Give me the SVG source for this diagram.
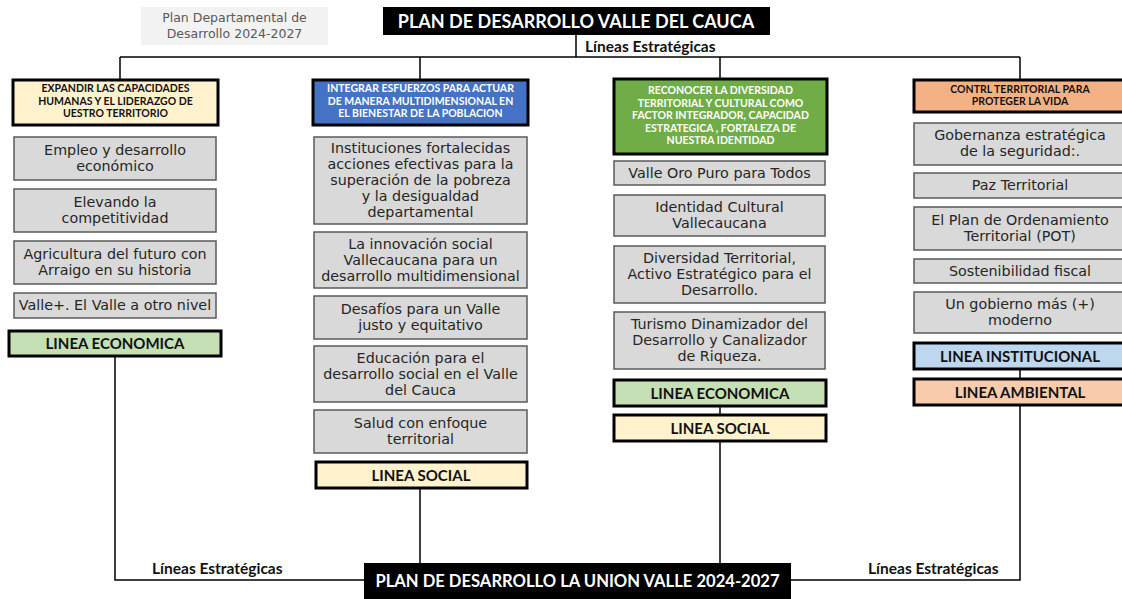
<svg xmlns="http://www.w3.org/2000/svg" width="1122" height="599" viewBox="0 0 1122 599">
<style>
.item rect{fill:#D9D9D9;stroke:#5a5a5a;stroke-width:1.5}
.item text{font-family:"DejaVu Sans",sans-serif;font-size:14.3px;fill:#262626;text-anchor:middle}
.hdr rect{stroke:#000;stroke-width:3}
.hdr text{font-family:Lato,"Liberation Sans",sans-serif;font-weight:bold;font-size:10.5px;text-anchor:middle}
.lin rect{stroke:#000;stroke-width:3}
.lin text{font-family:Lato,"Liberation Sans",sans-serif;font-weight:bold;font-size:15px;fill:#111;text-anchor:middle}
.ttl rect{fill:#000}
.ttl text{font-family:Lato,"Liberation Sans",sans-serif;font-weight:bold;fill:#fff;text-anchor:middle}
.lbl{font-family:Lato,"Liberation Sans",sans-serif;font-weight:bold;font-size:15.5px;fill:#111}
#connectors path{fill:none;stroke:#000;stroke-width:1.5}
</style>
<rect width="1122" height="599" fill="#fff"/>

<g id="connectors">
<path d="M576 35V57M120 57H1020M120 57V80M420 57V80M720 57V79M1020 57V80"/>
<path d="M115 356V580H364"/>
<path d="M420 488V563"/>
<path d="M720 406V415M720 441V563"/>
<path d="M1020 369V379M1020 405V580H791"/>
</g>

<g id="plan-departamental">
<rect x="141" y="7" width="187" height="38" fill="#F2F2F2"/>
<text x="234.5" y="22" font-family="'DejaVu Sans',sans-serif" font-size="12.5" fill="#595959" text-anchor="middle">Plan Departamental de</text>
<text x="234.5" y="38" font-family="'DejaVu Sans',sans-serif" font-size="12.5" fill="#595959" text-anchor="middle">Desarrollo 2024-2027</text>
</g>

<g id="title-top" class="ttl">
<rect x="383" y="7" width="387" height="28"/>
<text x="576" y="27.5" font-size="18">PLAN DE DESARROLLO VALLE DEL CAUCA</text>
</g>
<text id="label-top" class="lbl" x="585" y="52">Líneas Estratégicas</text>

<!-- Column 1 -->
<g id="h1" class="hdr">
<rect x="13" y="80" width="205" height="45" fill="#FFF2CC"/>
<text x="115.5" y="92" fill="#111">EXPANDIR LAS CAPACIDADES</text>
<text x="115.5" y="104.5" fill="#111">HUMANAS Y EL LIDERAZGO DE</text>
<text x="115.5" y="117" fill="#111">UESTRO TERRITORIO</text>
</g>
<g id="c1i1" class="item"><rect x="14" y="137" width="202" height="43"/><text x="115" y="155">Empleo y desarrollo</text><text x="115" y="171">económico</text></g>
<g id="c1i2" class="item"><rect x="14" y="189" width="202" height="43"/><text x="115" y="207">Elevando la</text><text x="115" y="223">competitividad</text></g>
<g id="c1i3" class="item"><rect x="14" y="241" width="202" height="43"/><text x="115" y="259">Agricultura del futuro con</text><text x="115" y="275">Arraigo en su historia</text></g>
<g id="c1i4" class="item"><rect x="14" y="293" width="202" height="25"/><text x="115" y="310">Valle+. El Valle a otro nivel</text></g>
<g id="c1l1" class="lin"><rect x="9" y="331" width="212" height="25" fill="#C5E0B4"/><text x="115" y="349">LINEA ECONOMICA</text></g>

<!-- Column 2 -->
<g id="h2" class="hdr">
<rect x="313" y="80" width="215" height="45" fill="#4472C4"/>
<text x="420.5" y="92" fill="#fff">INTEGRAR ESFUERZOS PARA ACTUAR</text>
<text x="420.5" y="104.5" fill="#fff">DE MANERA MULTIDIMENSIONAL EN</text>
<text x="420.5" y="117" fill="#fff">EL BIENESTAR DE LA POBLACION</text>
</g>
<g id="c2i1" class="item"><rect x="314" y="137" width="213" height="87"/>
<text x="420.5" y="153">Instituciones fortalecidas</text>
<text x="420.5" y="169">acciones efectivas para la</text>
<text x="420.5" y="185">superación de la pobreza</text>
<text x="420.5" y="201">y la desigualdad</text>
<text x="420.5" y="217">departamental</text></g>
<g id="c2i2" class="item"><rect x="314" y="232" width="213" height="56"/>
<text x="420.5" y="249">La innovación social</text>
<text x="420.5" y="265">Vallecaucana para un</text>
<text x="420.5" y="281">desarrollo multidimensional</text></g>
<g id="c2i3" class="item"><rect x="314" y="296" width="213" height="43"/>
<text x="420.5" y="314">Desafíos para un Valle</text>
<text x="420.5" y="330">justo y equitativo</text></g>
<g id="c2i4" class="item"><rect x="314" y="346" width="213" height="56"/>
<text x="420.5" y="363">Educación para el</text>
<text x="420.5" y="379">desarrollo social en el Valle</text>
<text x="420.5" y="395">del Cauca</text></g>
<g id="c2i5" class="item"><rect x="314" y="410" width="213" height="43"/>
<text x="420.5" y="428">Salud con enfoque</text>
<text x="420.5" y="444">territorial</text></g>
<g id="c2l1" class="lin"><rect x="316" y="462" width="211" height="26" fill="#FFF2CC"/><text x="421" y="480.5">LINEA SOCIAL</text></g>

<!-- Column 3 -->
<g id="h3" class="hdr">
<rect x="614" y="79" width="213" height="75" fill="#70AD47"/>
<text x="720.5" y="94" fill="#fff">RECONOCER LA DIVERSIDAD</text>
<text x="720.5" y="106.5" fill="#fff">TERRITORIAL Y CULTURAL COMO</text>
<text x="720.5" y="119" fill="#fff">FACTOR INTEGRADOR, CAPACIDAD</text>
<text x="720.5" y="131.5" fill="#fff">ESTRATEGICA , FORTALEZA DE</text>
<text x="720.5" y="144" fill="#fff">NUESTRA IDENTIDAD</text>
</g>
<g id="c3i1" class="item"><rect x="614" y="161" width="211" height="24"/><text x="719.5" y="178">Valle Oro Puro para Todos</text></g>
<g id="c3i2" class="item"><rect x="614" y="195" width="211" height="41"/><text x="719.5" y="212">Identidad Cultural</text><text x="719.5" y="228">Vallecaucana</text></g>
<g id="c3i3" class="item"><rect x="614" y="246" width="211" height="57"/>
<text x="719.5" y="263">Diversidad Territorial,</text>
<text x="719.5" y="279">Activo Estratégico para el</text>
<text x="719.5" y="295">Desarrollo.</text></g>
<g id="c3i4" class="item"><rect x="614" y="312" width="211" height="57"/>
<text x="719.5" y="329">Turismo Dinamizador del</text>
<text x="719.5" y="345">Desarrollo y Canalizador</text>
<text x="719.5" y="361">de Riqueza.</text></g>
<g id="c3l1" class="lin"><rect x="614" y="380" width="212" height="26" fill="#C5E0B4"/><text x="720" y="398.5">LINEA ECONOMICA</text></g>
<g id="c3l2" class="lin"><rect x="614" y="415" width="212" height="26" fill="#FFF2CC"/><text x="720" y="433.5">LINEA SOCIAL</text></g>

<!-- Column 4 -->
<g id="h4" class="hdr">
<rect x="914" y="80" width="212" height="32" fill="#F4B183"/>
<text x="1020" y="93" fill="#111">CONTRL TERRITORIAL PARA</text>
<text x="1020" y="105" fill="#111">PROTEGER LA VIDA</text>
</g>
<g id="c4i1" class="item"><rect x="914" y="123" width="210" height="42"/><text x="1020" y="140">Gobernanza estratégica</text><text x="1020" y="156">de la seguridad:.</text></g>
<g id="c4i2" class="item"><rect x="914" y="173" width="210" height="25"/><text x="1020" y="190">Paz Territorial</text></g>
<g id="c4i3" class="item"><rect x="914" y="207" width="210" height="43"/><text x="1020" y="225">El Plan de Ordenamiento</text><text x="1020" y="241">Territorial (POT)</text></g>
<g id="c4i4" class="item"><rect x="914" y="259" width="210" height="24"/><text x="1020" y="276">Sostenibilidad fiscal</text></g>
<g id="c4i5" class="item"><rect x="914" y="292" width="210" height="41"/><text x="1020" y="309">Un gobierno más (+)</text><text x="1020" y="325">moderno</text></g>
<g id="c4l1" class="lin"><rect x="914" y="343" width="212" height="26" fill="#BDD7EE"/><text x="1020" y="361.5">LINEA INSTITUCIONAL</text></g>
<g id="c4l2" class="lin"><rect x="914" y="379" width="212" height="26" fill="#F8CBAD"/><text x="1020" y="397.5">LINEA AMBIENTAL</text></g>

<!-- Bottom -->
<g id="title-bottom" class="ttl">
<rect x="364" y="563" width="427" height="36"/>
<text x="577.5" y="587" font-size="16.6">PLAN DE DESARROLLO LA UNION VALLE 2024-2027</text>
</g>
<text id="label-bl" class="lbl" x="152" y="574">Líneas Estratégicas</text>
<text id="label-br" class="lbl" x="868" y="574">Líneas Estratégicas</text>
</svg>
